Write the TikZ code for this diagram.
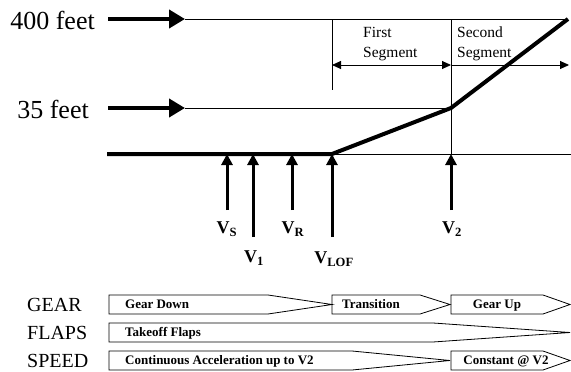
\documentclass[tikz,border=0pt]{standalone}
\usepackage{fontspec}
\setmainfont{Liberation Serif}
\usetikzlibrary{arrows.meta}
\begin{document}
\begin{tikzpicture}[x=1pt,y=-1pt,
  thin line/.style={line width=0.9pt},
  thick path/.style={line width=4pt},
  big arrow/.style={line width=4.5pt,-{Triangle[length=16pt,width=18pt]}},
  up arrow/.style={line width=3pt,-{Triangle[length=11pt,width=11pt]}},
  seg arrow/.style={line width=0.9pt},
  alt/.style={font=\fontsize{26}{28}\selectfont,inner sep=0pt,anchor=east},
  rowlabel/.style={font=\fontsize{20}{22}\selectfont,inner sep=0pt,anchor=west},
  vlabel/.style={font=\fontsize{18}{20}\selectfont\bfseries,inner sep=0pt},
  seglabel/.style={font=\fontsize{15.5}{20}\selectfont,inner sep=0pt,anchor=north west,align=left},
  bartext/.style={font=\fontsize{13}{14}\selectfont\bfseries,inner sep=0pt,text height=9pt,text depth=3pt},
  bar/.style={line width=0.8pt,line join=miter}]
\useasboundingbox (0,0) rectangle (571,372);

% altitude labels and arrows
\node[alt] (a400) at (95,20) {400 feet};
\node[alt] (a35) at (89,109) {35 feet};
\coordinate (s400) at (108,19);
\coordinate (h400) at (185,19);
\coordinate (e400) at (568,19);
\coordinate (s35) at (108,108);
\coordinate (h35) at (185,108);
\coordinate (e35) at (451,108);
\draw[big arrow] (s400) -- (h400);
\draw[thin line] (h400) -- (e400);
\draw[big arrow] (s35) -- (h35);
\draw[thin line] (h35) -- (e35);

% ground and climb
\coordinate (g0) at (107,154);
\coordinate (lof) at (332,154);
\coordinate (gend) at (571,154);
\coordinate (p35) at (451,108);
\coordinate (top) at (568,19);
\draw[thin line] (lof) -- (gend);
\draw[thick path,line join=miter] (g0) -- (lof) -- (p35) -- (top);

% segment verticals
\coordinate (v1top) at (332,19);
\coordinate (v1bot) at (332,90);
\coordinate (v2top) at (451,19);
\coordinate (v2bot) at (451,154);
\draw[thin line] (v1top) -- (v1bot);
\draw[thin line] (v2top) -- (v2bot);
\coordinate (sa) at (332,65);
\coordinate (sb) at (451,65);
\coordinate (sc) at (569,65);
\draw[seg arrow,{Triangle[length=9pt,width=8pt]}-{Triangle[length=9pt,width=8pt]}] (sa) -- (sb);
\draw[seg arrow,-{Triangle[length=9pt,width=8pt]}] (sb) -- (sc);
\node[seglabel] (first) at (363,27) {First\\Segment};
\node[seglabel] (second) at (457,27) {Second\\Segment};

% speed arrows
\node[vlabel] (vs) at (227,229) {V\textsubscript{S}};
\node[vlabel] (v1) at (254,258) {V\textsubscript{1}};
\node[vlabel] (vr) at (293,229) {V\textsubscript{R}};
\node[vlabel] (vlof) at (334,259) {V\textsubscript{LOF}};
\node[vlabel] (v2) at (452,229) {V\textsubscript{2}};
\coordinate (vst) at (227,210);
\coordinate (v1t) at (253,237);
\coordinate (vrt) at (292,210);
\coordinate (vloft) at (332,237);
\coordinate (v2t) at (451,210);
\draw[up arrow] (vst) -- (227,154);
\draw[up arrow] (v1t) -- (253,154);
\draw[up arrow] (vrt) -- (292,154);
\draw[up arrow] (vloft) -- (332,154);
\draw[up arrow] (v2t) -- (451,154);

% configuration rows
\node[rowlabel] (gear) at (27,305) {GEAR};
\node[rowlabel] (flaps) at (27,333) {FLAPS};
\node[rowlabel] (speed) at (27,361) {SPEED};

\draw[bar] (109,295) -- (268,295) -- (332,304.5) -- (268,314) -- (109,314) -- cycle;
\draw[bar] (332,295) -- (420,295) -- (450,304.5) -- (420,314) -- (332,314) -- cycle;
\draw[bar] (451,295) -- (543,295) -- (570,304.5) -- (543,314) -- (451,314) -- cycle;
\draw[bar] (109,323) -- (433,323) -- (570,332.5) -- (433,342) -- (109,342) -- cycle;
\draw[bar] (109,351) -- (352,351) -- (450,360.5) -- (352,370) -- (109,370) -- cycle;
\draw[bar] (451,351) -- (543,351) -- (570,360.5) -- (543,370) -- (451,370) -- cycle;

\node[bartext,anchor=west] (gd) at (125,305) {Gear Down};
\node[bartext] (tr) at (371,305) {Transition};
\node[bartext] (gu) at (497,305) {Gear Up};
\node[bartext,anchor=west] (tf) at (125,333) {Takeoff Flaps};
\node[bartext,anchor=west] (ca) at (125,361) {Continuous Acceleration up to V2};
\node[bartext] (cv) at (506,361) {Constant @ V2};
\end{tikzpicture}
\end{document}
